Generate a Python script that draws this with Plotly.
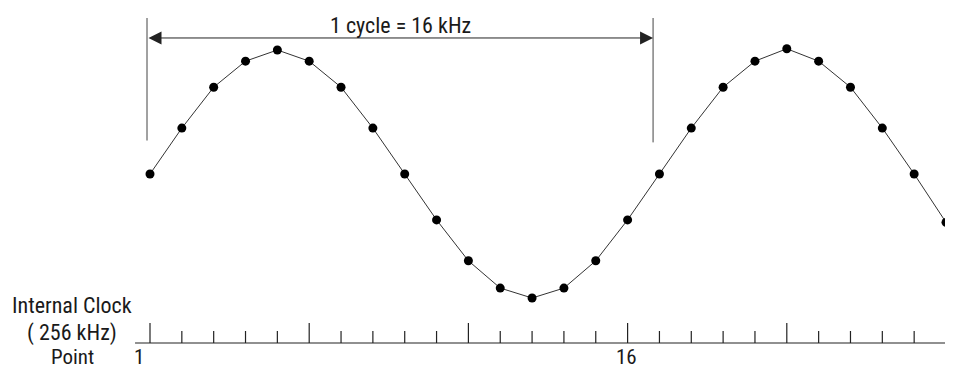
import plotly.graph_objects as go

# ---- data ----
points = list(range(1, 27))
values = [0.0, 0.37, 0.70, 0.91, 1.0, 0.91, 0.70, 0.37,
          0.0, -0.37, -0.70, -0.92, -1.0, -0.92, -0.70, -0.37,
          0.0, 0.37, 0.70, 0.91, 1.01, 0.91, 0.70, 0.37,
          0.0, -0.39]
point_labels = ["1", "16"]
point_label_pos = [0.66, 15.95]
major_tick_points = [1, 6, 11, 16, 21, 26]
cycle_label = "1 cycle = 16 kHz"
row_labels = ["Internal Clock", "( 256 kHz)", "Point"]

# page body has an 8px margin; size the figure so it fills the window exactly
OFF = 8
W, H = 953 - OFF, 371 - OFF
FONT = "Liberation Sans Narrow, Arial Narrow, Roboto Condensed, Liberation Sans, sans-serif"
TXT = "#1a1a1a"
FS = 21

# axis geometry (data units)
AX_Y = -1.363
MINOR_TOP = -1.266
MAJOR_TOP = -1.202
CYC_L, CYC_R = 0.906, 16.80
ARROW_Y = 1.097
VL_TOP, VL_BOT = 1.258, 0.27

fig = go.Figure()

# clock tick marks
tx, ty = [], []
for p in points:
    top = MAJOR_TOP if p in major_tick_points else MINOR_TOP
    tx += [p, p, None]
    ty += [AX_Y, top, None]
fig.add_trace(go.Scatter(x=tx, y=ty, mode="lines",
                         line=dict(color="#222222", width=1.2),
                         hoverinfo="skip", showlegend=False))

# sine wave with sample points
fig.add_trace(go.Scatter(x=points, y=values, mode="lines+markers",
                         line=dict(color="#333333", width=1),
                         marker=dict(color="black", size=9),
                         showlegend=False))

shapes = [
    dict(type="line", xref="x", yref="y", x0=0.53, x1=26.4, y0=AX_Y, y1=AX_Y,
         line=dict(color="#222222", width=1.2)),
    dict(type="line", xref="x", yref="y", x0=CYC_L, x1=CYC_L, y0=VL_BOT, y1=VL_TOP,
         line=dict(color="#444444", width=1)),
    dict(type="line", xref="x", yref="y", x0=CYC_R, x1=CYC_R, y0=VL_BOT - 0.015, y1=VL_TOP,
         line=dict(color="#444444", width=1)),
]

annotations = [
    # double-headed arrow
    dict(x=CYC_R, y=ARROW_Y, ax=CYC_L, ay=ARROW_Y, xref="x", yref="y",
         axref="x", ayref="y", showarrow=True, arrowhead=2, arrowside="end+start",
         arrowsize=2.6, arrowwidth=1, arrowcolor="#222222", text=""),
    dict(x=(CYC_L + CYC_R) / 2, y=ARROW_Y, xref="x", yref="y", text=cycle_label,
         showarrow=False, yanchor="bottom", yshift=-2,
         font=dict(family=FONT, size=22, color=TXT)),
]
# bottom row: point numbers and "Point", anchored to the bottom edge so they stay inside
for lab, xp in zip(point_labels, point_label_pos):
    annotations.append(dict(x=xp, y=0, xref="x", yref="paper", text=lab,
                            showarrow=False, xanchor="center", yanchor="bottom",
                            font=dict(family=FONT, size=FS, color=TXT)))
annotations.append(dict(x=(72 - OFF) / W, y=0, xref="paper", yref="paper", text=row_labels[2],
                        showarrow=False, xanchor="center", yanchor="bottom",
                        font=dict(family=FONT, size=FS, color=TXT)))
row_y = [305, 333]
for lab, py in zip(row_labels[:2], row_y):
    annotations.append(dict(x=(72 - OFF) / W, y=1 - (py - OFF) / H, xref="paper", yref="paper",
                            text=lab, showarrow=False, xanchor="center", yanchor="middle",
                            font=dict(family=FONT, size=22, color=TXT)))

fig.update_layout(
    width=W, height=H,
    margin=dict(l=0, r=0, t=0, b=0),
    paper_bgcolor="white", plot_bgcolor="white",
    xaxis=dict(range=[1 - (150 - OFF) / 31.84, 1 + (953 - 150) / 31.84],
               visible=False, fixedrange=True),
    yaxis=dict(range=[(174 - 371) / 124, (174 - OFF) / 124], visible=False, fixedrange=True),
    shapes=shapes, annotations=annotations,
    showlegend=False,
)

fig.write_html("out.html")
